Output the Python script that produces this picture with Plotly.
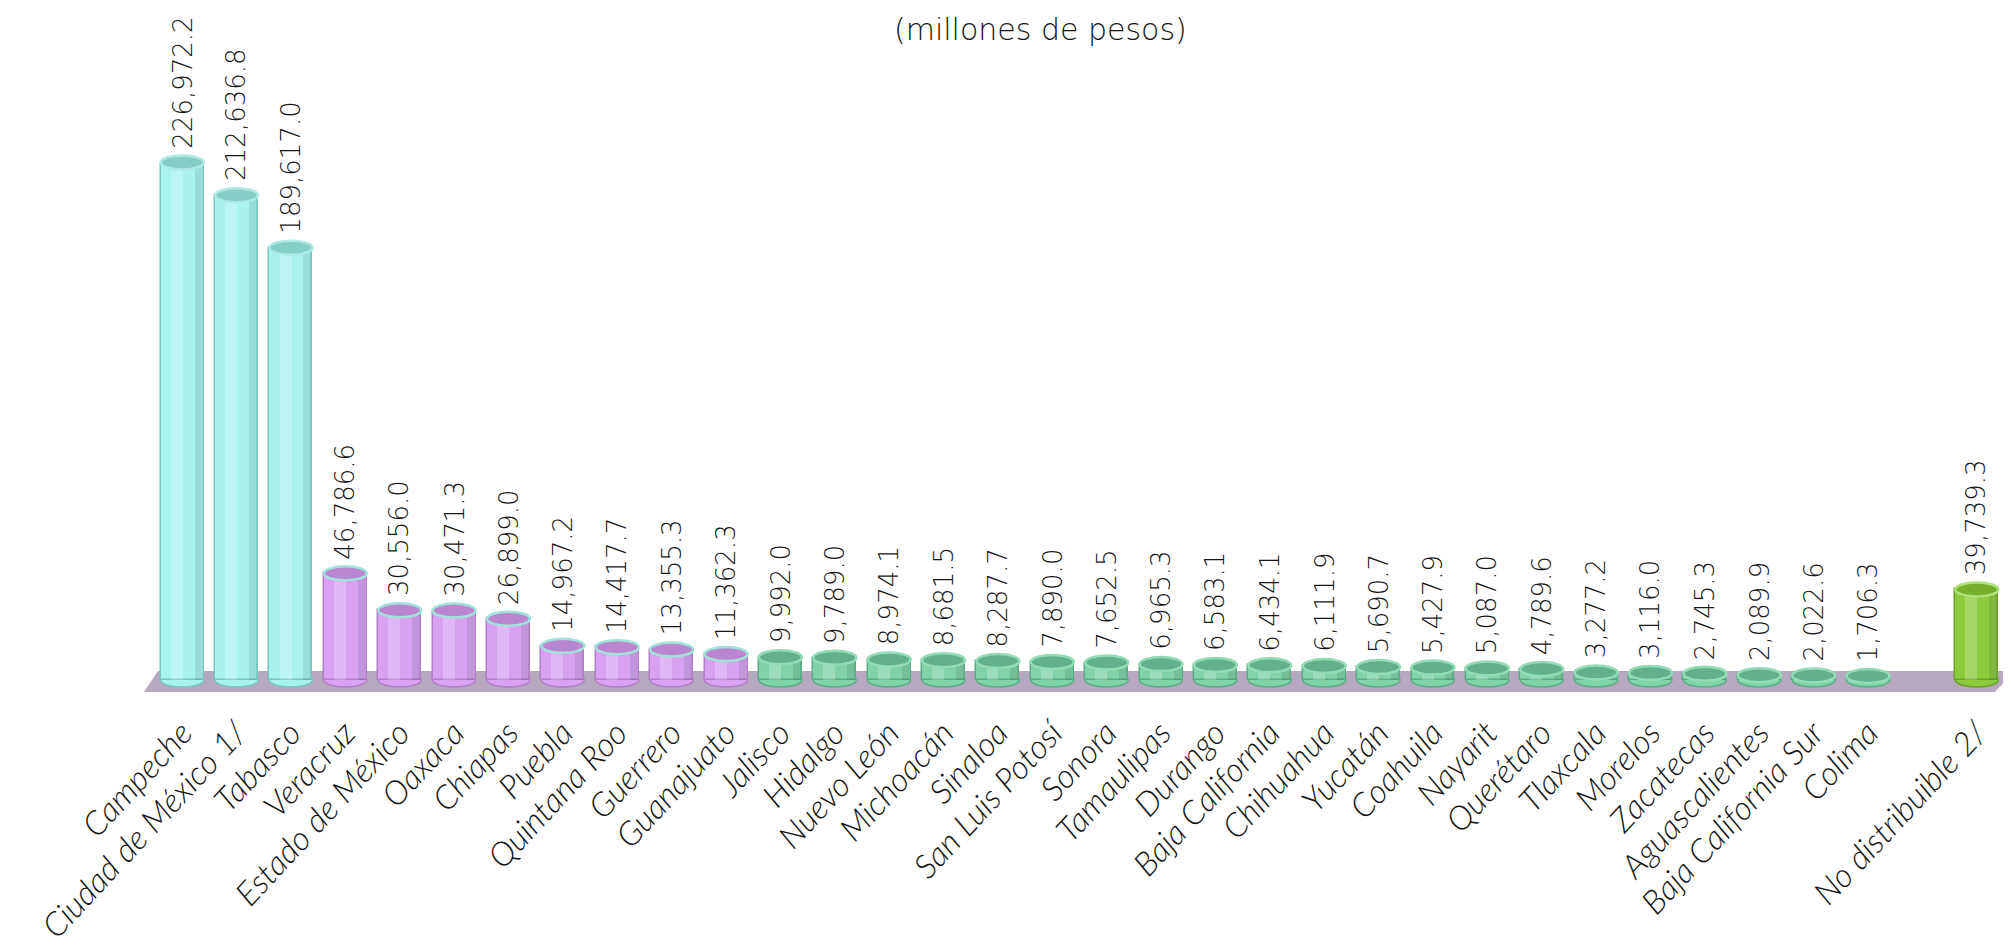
import plotly.graph_objects as go

# ---- data ----
categories = [
    "Campeche", "Ciudad de México 1/", "Tabasco", "Veracruz", "Estado de México",
    "Oaxaca", "Chiapas", "Puebla", "Quintana Roo", "Guerrero", "Guanajuato",
    "Jalisco", "Hidalgo", "Nuevo León", "Michoacán", "Sinaloa", "San Luis Potosí",
    "Sonora", "Tamaulipas", "Durango", "Baja California", "Chihuahua", "Yucatán",
    "Coahuila", "Nayarit", "Querétaro", "Tlaxcala", "Morelos", "Zacatecas",
    "Aguascalientes", "Baja California Sur", "Colima", "No distribuible 2/",
]
values = [
    226972.2, 212636.8, 189617.0, 46786.6, 30556.0,
    30471.3, 26899.0, 14967.2, 14417.7, 13355.3, 11362.3,
    9992.0, 9789.0, 8974.1, 8681.5, 8287.7, 7890.0,
    7652.5, 6965.3, 6583.1, 6434.1, 6111.9, 5690.7,
    5427.9, 5087.0, 4789.6, 3277.2, 3116.0, 2745.3,
    2089.9, 2022.6, 1706.3, 39739.3,
]
groups = ["alto"] * 3 + ["medio"] * 8 + ["bajo"] * 21 + ["nd"]
subtitle = "(millones de pesos)"

# ---- style ----
body = {"alto": "#a9f3ef", "medio": "#d9a2f1", "bajo": "#80d2a9", "nd": "#8dcb3e"}
edge = {"alto": "#78c6bf", "medio": "#b27fc8", "bajo": "#5eab88", "nd": "#6aa42a"}
capf = {"alto": "#86cdc6", "medio": "#bb86d0", "bajo": "#62b08d", "nd": "#74b02e"}
rim = {"alto": "#aee9e4", "medio": "#9fe3da", "bajo": "#93dcb6", "nd": "#aee27a"}
FONT = "DejaVu Sans, sans-serif"
TICKFONT = "Lato, DejaVu Sans, sans-serif"
TXT = "#151515"

W, H = 2011, 946
ML, MR, MT, MB = 147, 15, 0, 246
plot_h = H - MT - MB
zero_px = 672                      # pixel row of value 0
units_per_px = 1 / 0.00228
y_top = (zero_px - MT) * units_per_px
y_bot = -(MT + plot_h - zero_px) * units_per_px
cap_px = 7
cap_h = cap_px * units_per_px
bar_w = 0.79

# x positions: a one-slot gap before the last category
positions = list(range(len(categories) - 1)) + [len(categories)]

fig = go.Figure()
fig.add_trace(go.Bar(
    x=positions, y=values, width=bar_w,
    marker=dict(color=[body[g] for g in groups],
                line=dict(color=[edge[g] for g in groups], width=1.5)),
    hoverinfo="x+y", showlegend=False,
))
# highlight strip to suggest cylinder shading
fig.add_trace(go.Bar(
    x=[p - 0.1 for p in positions], y=values, width=0.22,
    marker=dict(color="rgba(255,255,255,0.22)", line=dict(width=0)),
    hoverinfo="skip", showlegend=False,
))
# darker right edge shading
fig.add_trace(go.Bar(
    x=[p + 0.3 for p in positions], y=values, width=0.14,
    marker=dict(color="rgba(40,60,60,0.12)", line=dict(width=0)),
    hoverinfo="skip", showlegend=False,
))

shapes = []
# floor
shapes.append(dict(
    type="path", xref="paper", yref="y", layer="below",
    path=(f"M {-0.006} {-12 * units_per_px} L {0.0016} {9 * units_per_px} "
          f"L {1.006} {9 * units_per_px} L {0.995} {-12 * units_per_px} Z"),
    fillcolor="#b6a8be", line=dict(width=0),
))
for p, v, g in zip(positions, values, groups):
    # rounded bottom
    shapes.append(dict(type="circle", xref="x", yref="y", layer="below",
                       x0=p - bar_w / 2, x1=p + bar_w / 2, y0=-cap_h, y1=cap_h,
                       fillcolor=body[g], line=dict(color=edge[g], width=1.5)))
    # top cap
    shapes.append(dict(type="circle", xref="x", yref="y", layer="above",
                       x0=p - bar_w / 2, x1=p + bar_w / 2, y0=v - cap_h, y1=v + cap_h,
                       fillcolor=capf[g], line=dict(color=rim[g], width=2.5)))

annotations = []
for p, v in zip(positions, values):
    annotations.append(dict(
        x=p, y=v, xref="x", yref="y", text=f"{v:,.1f}", showarrow=False,
        textangle=-90, yanchor="bottom", xanchor="center", yshift=cap_px + 5,
        font=dict(family=FONT, size=26, color=TXT, weight=300),
    ))
annotations.append(dict(
    x=(1032 - ML) / (W - ML - MR), y=1,
    xref="paper", yref="paper", yshift=-21, text=subtitle, showarrow=False,
    xanchor="center", yanchor="middle",
    font=dict(family=FONT, size=30, color=TXT, weight=300),
))

fig.update_layout(
    width=W, height=H,
    margin=dict(l=ML, r=MR, t=MT, b=MB, autoexpand=False),
    paper_bgcolor="white", plot_bgcolor="white",
    barmode="overlay", bargap=0,
    shapes=shapes, annotations=annotations,
    xaxis=dict(range=[-0.5, len(categories) + 0.5], tickvals=positions, ticktext=categories,
               tickangle=-47, showgrid=False, zeroline=False, showline=False, ticks="",
               ticklabelstandoff=-2, automargin=False,
               tickfont=dict(family=TICKFONT, size=33, color=TXT, weight=300, style="italic")),
    yaxis=dict(range=[y_bot, y_top], visible=False, showgrid=False, zeroline=False,
               automargin=False),
)

fig.write_html("out.html")
